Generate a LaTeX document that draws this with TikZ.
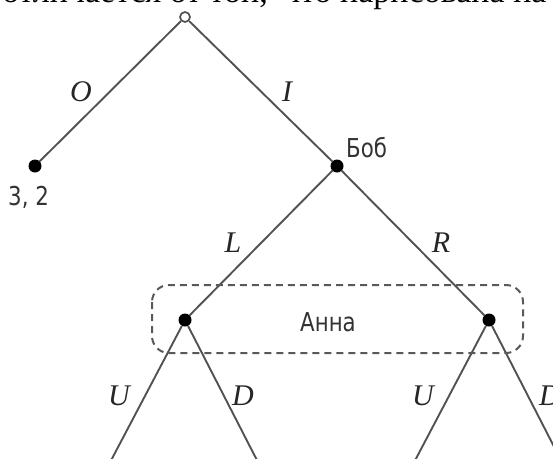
\documentclass[tikz,border=0pt]{standalone}
\usepackage{fontspec}
\setmainfont{Liberation Serif}
\newfontfamily\plfont[FakeStretch=0.82]{DejaVu Sans}
\begin{document}
\begin{tikzpicture}[x=1pt,y=-1pt,
  edge/.style={draw=black!68, line width=1.9pt},
  dot/.style={circle, fill=black, inner sep=0pt, minimum size=13pt},
  opendot/.style={circle, draw=black!68, fill=white, line width=1.7pt, inner sep=0pt, minimum size=10pt},
  act/.style={font=\fontsize{30}{30}\selectfont\itshape, text=black!85, inner sep=0pt},
  plabel/.style={font=\plfont\fontsize{26}{26}\selectfont, text=black!80, inner sep=0pt},
  toptext/.style={font=\fontsize{34}{34}\selectfont, inner sep=0pt},
  infoset/.style={draw=black!65, line width=2pt, dash pattern=on 7pt off 5pt, rounded corners=17pt}]
\useasboundingbox (0,0) rectangle (553,458);
\clip (0,0) rectangle (553,458);
% cut-off line of text above the figure
\node[toptext, anchor=base east] (txtl) at (268,2) {отличается от той,};
\node[toptext, anchor=base west] (txtr) at (283,2) {что нарисована на};
% nodes
\node[opendot] (root) at (185,17) {};
\node[dot] (out) at (35,166) {};
\node[dot] (bob) at (337,166) {};
\node[dot] (annaL) at (185,320) {};
\node[dot] (annaR) at (489,320) {};
\coordinate (LU) at (106,470);
\coordinate (LD) at (262,470);
\coordinate (RU) at (410,470);
\coordinate (RD) at (566,470);
% edges
\draw[edge] (root) -- (out);
\draw[edge] (root) -- (bob);
\draw[edge] (bob) -- (annaL);
\draw[edge] (bob) -- (annaR);
\draw[edge] (annaL) -- (LU);
\draw[edge] (annaL) -- (LD);
\draw[edge] (annaR) -- (RU);
\draw[edge] (annaR) -- (RD);
% information set
\draw[infoset] (152,285) rectangle (523,353);
% action labels
\node[act] (lO) at (81,92) {O};
\node[act] (lI) at (287,92) {I};
\node[act] (lL) at (233,243) {L};
\node[act] (lR) at (441,243) {R};
\node[act] (lU1) at (119,396) {U};
\node[act] (lD1) at (243,396) {D};
\node[act] (lU2) at (423,396) {U};
\node[act] (lD2) at (550,396) {D};
% player labels and payoff
\node[plabel, anchor=base west] (pay) at (8,205) {3, 2};
\node[plabel, anchor=base west] (pbob) at (346,157) {Боб};
\node[plabel, anchor=base] (panna) at (328,331) {Анна};
\end{tikzpicture}
\end{document}
